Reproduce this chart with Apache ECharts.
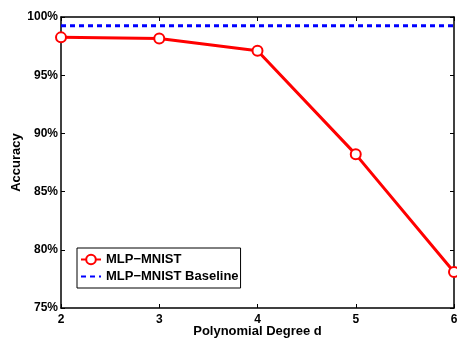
<!DOCTYPE html>
<html>
<head>
<meta charset="utf-8">
<script src="https://cdn.jsdelivr.net/npm/echarts@6/dist/echarts.min.js"></script>
<style>
  html, body { margin: 0; padding: 0; background: #fff; }
  #chart { width: 457px; height: 340px; }
</style>
</head>
<body>
<div id="chart"></div>
<script>
const degrees = [2, 3, 4, 5, 6];
const mlpAccuracy = [98.25, 98.15, 97.1, 88.2, 78.1];
const baselineAccuracy = 99.25;

const chart = echarts.init(document.getElementById("chart"));

const font = { fontFamily: "Liberation Sans, Arial, sans-serif", fontWeight: "bold", fontSize: 12, color: "#000" };
const bigFont = Object.assign({}, font, { fontSize: 13 });

// hidden mirror axes give the box its inward ticks on top and right
const tickOnly = {
  axisLine: { show: true, lineStyle: { color: "#000", width: 1.5 } },
  axisTick: { show: true, inside: true, length: 4, lineStyle: { color: "#000" } },
  axisLabel: { show: false },
  splitLine: { show: false },
};

const option = {
  animation: false,
  grid: { left: 61, right: 3, top: 17, bottom: 32, containLabel: false, outerBoundsMode: "none" },
  legend: {
    left: 77,
    top: 248,
    orient: "vertical",
    backgroundColor: "#fff",
    borderColor: "#000",
    borderWidth: 1,
    borderRadius: 0,
    padding: [5, 2, 5, 3],
    itemGap: 4,
    itemWidth: 20,
    itemHeight: 12,
    textStyle: bigFont,
    data: [
      { name: "MLP\u2212MNIST" },
      { name: "MLP\u2212MNIST Baseline", itemStyle: { opacity: 0 } },
    ],
  },
  xAxis: [
    {
      type: "value",
      min: 2,
      max: 6,
      interval: 1,
      name: "Polynomial Degree d",
      nameLocation: "middle",
      nameGap: 17,
      nameMoveOverlap: false,
      nameTextStyle: bigFont,
      axisLine: { lineStyle: { color: "#000", width: 1.5 } },
      axisTick: { inside: true, length: 4, lineStyle: { color: "#000" } },
      axisLabel: Object.assign({ margin: 6 }, font),
      splitLine: { show: false },
    },
    Object.assign({ type: "value", position: "top", min: 2, max: 6, interval: 1 }, tickOnly),
  ],
  yAxis: [
    {
      type: "value",
      min: 75,
      max: 100,
      interval: 5,
      name: "Accuracy",
      nameLocation: "middle",
      nameGap: 38,
      nameMoveOverlap: false,
      nameTextStyle: bigFont,
      axisLine: { lineStyle: { color: "#000", width: 1.5 } },
      axisTick: { inside: true, length: 4, lineStyle: { color: "#000" } },
      axisLabel: Object.assign({ margin: 3, formatter: "{value}%" }, font),
      splitLine: { show: false },
    },
    Object.assign({ type: "value", position: "right", min: 75, max: 100, interval: 5 }, tickOnly),
  ],
  series: [
    {
      name: "MLP\u2212MNIST",
      type: "line",
      data: degrees.map((d, i) => [d, mlpAccuracy[i]]),
      symbol: "emptyCircle",
      symbolSize: 10,
      itemStyle: { color: "#ff0000", borderWidth: 2.5 },
      lineStyle: { color: "#ff0000", width: 3 },
      z: 3,
    },
    {
      name: "MLP\u2212MNIST Baseline",
      type: "line",
      data: [[degrees[0], baselineAccuracy], [degrees[degrees.length - 1], baselineAccuracy]],
      showSymbol: false,
      symbol: "none",
      itemStyle: { color: "#0000ff" },
      lineStyle: { color: "#0000ff", width: 3, type: [5, 4] },
      z: 2,
    },
  ],
};

chart.setOption(option);
</script>
</body>
</html>
